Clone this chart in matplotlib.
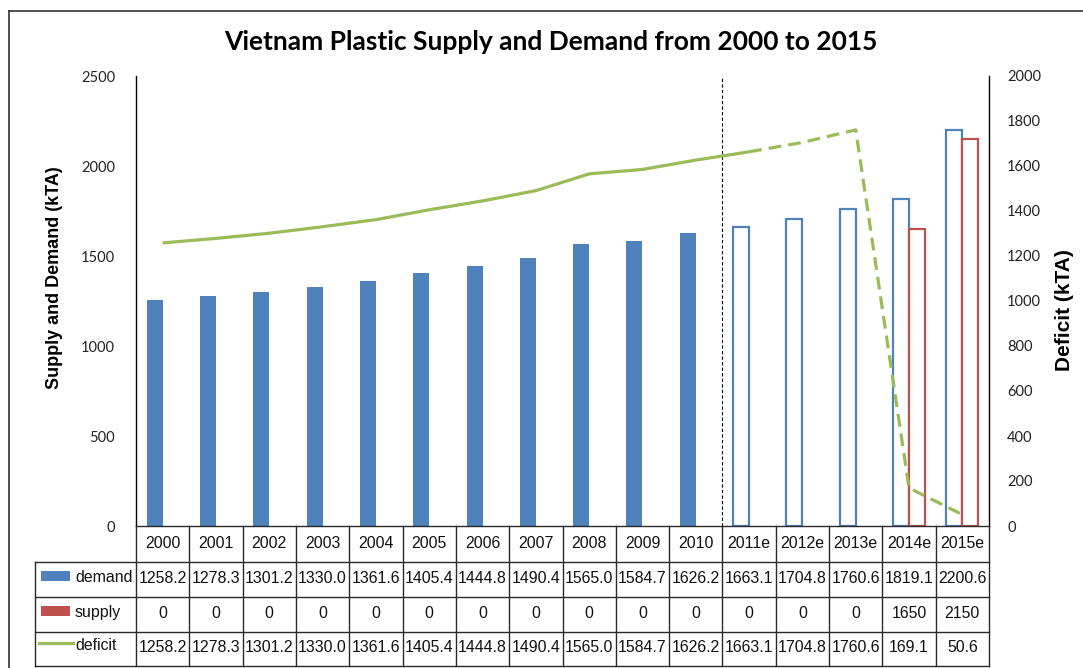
import matplotlib
matplotlib.use("Agg")
import matplotlib.pyplot as plt
from matplotlib.lines import Line2D
from matplotlib.patches import Rectangle
import numpy as np

years = ["2000", "2001", "2002", "2003", "2004", "2005", "2006", "2007",
         "2008", "2009", "2010", "2011e", "2012e", "2013e", "2014e", "2015e"]
demand = [1258.2, 1278.3, 1301.2, 1330.0, 1361.6, 1405.4, 1444.8, 1490.4,
          1565.0, 1584.7, 1626.2, 1663.1, 1704.8, 1760.6, 1819.1, 2200.6]
supply = [0, 0, 0, 0, 0, 0, 0, 0, 0, 0, 0, 0, 0, 0, 1650, 2150]
deficit = [1258.2, 1278.3, 1301.2, 1330.0, 1361.6, 1405.4, 1444.8, 1490.4,
           1565.0, 1584.7, 1626.2, 1663.1, 1704.8, 1760.6, 169.1, 50.6]
first_estimate = 11  # index of 2011e, where estimates begin

BLUE = "#4F81BD"
RED = "#C0504D"
GREEN = "#9BBB59"

W, H = 1083, 668
fig = plt.figure(figsize=(W / 100, H / 100), dpi=100)

def fx(px):
    return px / W

def fy(py):
    return 1 - py / H

x_left, x_right = 136, 989
y_top, y_zero, y_table_bottom = 76, 526, 666

ax = fig.add_axes([fx(x_left), fy(y_zero), fx(x_right - x_left), fy(y_top) - fy(y_zero)])
ax2 = ax.twinx()
n = len(years)
x = np.arange(n)
ax.set_xlim(-0.5, n - 0.5)
ax.set_ylim(0, 2500)
ax2.set_ylim(0, 2000)

bw = 0.3
for i in range(n):
    hollow = i >= first_estimate
    for val, col, off in ((demand[i], BLUE, -bw / 2), (supply[i], RED, bw / 2)):
        if val <= 0:
            continue
        if hollow:
            ax.bar(x[i] + off, val, width=bw, facecolor="white", edgecolor=col,
                   linewidth=1.6, zorder=2)
        else:
            ax.bar(x[i] + off, val, width=bw, facecolor=col, edgecolor="none", zorder=2)

# deficit line: actuals solid, estimates dashed
ax2.plot(x[:first_estimate + 1], deficit[:first_estimate + 1], color=GREEN,
         lw=2.3, solid_capstyle="butt", zorder=3)
ax2.plot(x[first_estimate:], deficit[first_estimate:], color=GREEN, lw=2.3,
         dashes=(4, 2.2), zorder=3)

# boundary between actual and estimated years
ax.axvline(first_estimate - 0.5, color="black", lw=0.8, ls=(0, (3, 2)), zorder=1)

ax.set_yticks(np.arange(0, 2501, 500))
ax2.set_yticks(np.arange(0, 2001, 200))
for a in (ax, ax2):
    a.tick_params(length=0, colors="#222222", labelsize=10.5)
    a.set_xticks([])
    for lab in a.get_yticklabels():
        lab.set_fontfamily("Lato")
    for s in ("top", "bottom"):
        a.spines[s].set_visible(False)
ax.tick_params(axis="y", pad=15)
ax2.tick_params(axis="y", pad=13)
ax.spines["right"].set_visible(False)
ax.spines["left"].set_linewidth(1.0)
ax2.spines["left"].set_visible(False)
ax2.spines["right"].set_linewidth(1.0)

fig.text(fx(551), fy(42), "Vietnam Plastic Supply and Demand from 2000 to 2015",
         ha="center", va="center", fontfamily="Lato", fontweight="bold", fontsize=19)
fig.text(fx(55), fy(278), "Supply and Demand (kTA)", rotation=90, ha="center",
         va="center", fontfamily="Liberation Sans", fontweight="bold", fontsize=13)
fig.text(fx(1065), fy(310), "Deficit (kTA)", rotation=90, ha="center",
         va="center", fontfamily="Liberation Sans", fontweight="bold", fontsize=15)

# data table below the plot; y runs in pixel rows, top at y_zero
tab = fig.add_axes([fx(x_left), fy(y_table_bottom), fx(x_right - x_left),
                    fy(y_zero) - fy(y_table_bottom)])
tab.set_xlim(-0.5, n - 0.5)
row_edges_px = [526, 562, 597, 632, 666]
tab.set_ylim(y_table_bottom, y_zero)
tab.axis("off")

unit = (x_right - x_left) / n
legend_left = -0.5 - (x_left - 35) / unit
grid_kw = dict(color="#2a2a2a", lw=1.0, clip_on=False)
tab.plot([-0.5, n - 0.5], [row_edges_px[0]] * 2, **grid_kw)
for ry in row_edges_px[1:]:
    tab.plot([legend_left, n - 0.5], [ry, ry], **grid_kw)
for i in range(n + 1):
    tab.plot([i - 0.5, i - 0.5], [row_edges_px[0], row_edges_px[-1]], **grid_kw)
tab.plot([legend_left, legend_left], [row_edges_px[1], row_edges_px[-1]], **grid_kw)

cell_font = dict(family="Liberation Sans", size=11.4, color="#111111")
rows = [
    years,
    [f"{v:.1f}" for v in demand],
    [f"{v:.0f}" for v in supply],
    [f"{v:.1f}" for v in deficit],
]
for r, vals in enumerate(rows):
    yc = (row_edges_px[r] + row_edges_px[r + 1]) / 2 - 1
    for i, s in enumerate(vals):
        tab.text(x[i], yc, s, ha="center", va="center", **cell_font)

# legend keys in the first column
key_x0 = -0.5 - (x_left - 41) / unit
key_w = 29 / unit
label_x = -0.5 - (x_left - 75) / unit
for r, (name, col) in enumerate((("demand", BLUE), ("supply", RED), ("deficit", GREEN)), start=1):
    yc = (row_edges_px[r] + row_edges_px[r + 1]) / 2
    if name == "deficit":
        tab.plot([key_x0 - 2 / unit, key_x0 + key_w + 3 / unit], [yc - 6, yc - 6],
                 color=col, lw=2.3, clip_on=False)
        tab.text(label_x, yc - 3, name, ha="left", va="center", **cell_font)
    else:
        tab.add_patch(Rectangle((key_x0, yc - 8.5), key_w, 10, facecolor=col,
                                edgecolor="none", clip_on=False))
        tab.text(label_x, yc - 1.5, name, ha="left", va="center", **cell_font)

# chart frame
fig.add_artist(Line2D([fx(9), fx(9)], [fy(11), 0], color="#333333", lw=1.2))
fig.add_artist(Line2D([fx(9), 1], [fy(11), fy(11)], color="#333333", lw=1.2))

fig.savefig("out.png", dpi=100, facecolor="white")
